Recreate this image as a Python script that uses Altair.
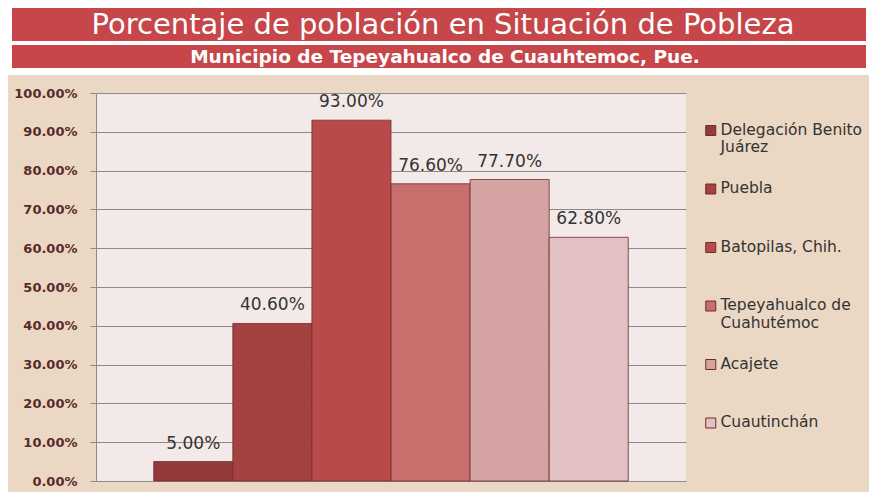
import altair as alt
import pandas as pd

# ---- data ----
categories = ["Delegación Benito Juárez", "Puebla", "Batopilas, Chih.",
              "Tepeyahualco de Cuahutémoc", "Acajete", "Cuautinchán"]
values = [0.05, 0.406, 0.93, 0.766, 0.777, 0.628]
colors = ["#943A3A", "#A44141", "#B84B4A", "#C86F6E", "#D6A3A3", "#E2C1C4"]
y_ticks = [0.0, 0.1, 0.2, 0.3, 0.4, 0.5, 0.6, 0.7, 0.8, 0.9, 1.0]
title_text = "Porcentaje de población en Situación de Pobleza"
subtitle_text = "Municipio de Tepeyahualco de Cuauhtemoc, Pue."
legend_lines = {
    "Delegación Benito Juárez": ["Delegación Benito", "Juárez"],
    "Tepeyahualco de Cuahutémoc": ["Tepeyahualco de", "Cuahutémoc"],
}

df = pd.DataFrame({"cat": categories, "value": values})

W, H = 590, 388

# legend label expression (two lines for every entry, for even spacing)
parts = []
for name, lines in legend_lines.items():
    parts.append(f"datum.label == '{name}' ? ['{lines[0]}', '{lines[1]}']")
label_expr = " : ".join(parts) + " : [datum.label, '']"

x_enc = alt.X("cat:N", sort=categories, axis=None,
              scale=alt.Scale(paddingInner=0, paddingOuter=0.73))
y_enc = alt.Y("value:Q", scale=alt.Scale(domain=[0, 1]),
              axis=alt.Axis(values=y_ticks, format=".2%", title=None,
                            labelOverlap=False,
                            labelFont="DejaVu Sans", labelFontWeight="bold",
                            labelFontSize=13, labelColor="#5a2a2a",
                            gridColor="#8a8a8a", gridWidth=1,
                            domainColor="#8a8a8a", tickColor="#8a8a8a",
                            tickSize=6, labelPadding=13))

bars = alt.Chart(df).mark_bar(stroke="#6e2b2b", strokeWidth=0.8).encode(
    x=x_enc,
    y=y_enc,
    color=alt.Color("cat:N", sort=categories,
                    scale=alt.Scale(domain=categories, range=colors),
                    legend=alt.Legend(
                        title=None, orient="none", legendX=607, legendY=22,
                        direction="vertical", padding=0,
                        symbolType="M-1,0.55H1V2.55H-1Z", symbolSize=100,
                        symbolStrokeColor="#6e2b2b", symbolStrokeWidth=1,
                        labelFont="DejaVu Sans", labelFontSize=15.5,
                        labelColor="#333333", labelBaseline="top",
                        labelOffset=2, labelLimit=300, rowPadding=17.5,
                        labelExpr=label_expr)),
)

labels = alt.Chart(df).mark_text(
    font="DejaVu Sans", fontSize=17, color="#333333",
    baseline="alphabetic", dy=-13
).encode(
    x=x_enc,
    y=y_enc,
    text=alt.Text("value:Q", format=".2%"),
)

one = pd.DataFrame({"t": [title_text], "s": [subtitle_text]})

white_top = alt.Chart(one).mark_rect(color="white").encode(
    x=alt.value(-90), x2=alt.value(W + 185), y=alt.value(-90), y2=alt.value(-18))
title_bar = alt.Chart(one).mark_rect(color="#C6464A").encode(
    x=alt.value(-84), x2=alt.value(770), y=alt.value(-85), y2=alt.value(-52))
sub_bar = alt.Chart(one).mark_rect(color="#C6464A").encode(
    x=alt.value(-84), x2=alt.value(770), y=alt.value(-48), y2=alt.value(-25))
title_mark = alt.Chart(one).mark_text(
    font="DejaVu Sans", fontSize=29, color="white", baseline="middle", align="center"
).encode(x=alt.value(347), y=alt.value(-68), text="t:N")
sub_mark = alt.Chart(one).mark_text(
    font="DejaVu Sans", fontWeight="bold", fontSize=18.5, color="white",
    baseline="middle", align="center"
).encode(x=alt.value(349), y=alt.value(-36), text="s:N")

chart = alt.layer(white_top, title_bar, sub_bar, title_mark, sub_mark, bars, labels).properties(
    width=W, height=H,
    background="#EAD7C4",
    padding={"left": 88, "top": 85, "right": 183, "bottom": 11},
    autosize=alt.AutoSizeParams(type="none"),
).configure_view(fill="#F3E9E9", stroke=None)

chart.save("out.html", embed_options={"renderer": "svg", "actions": False})
